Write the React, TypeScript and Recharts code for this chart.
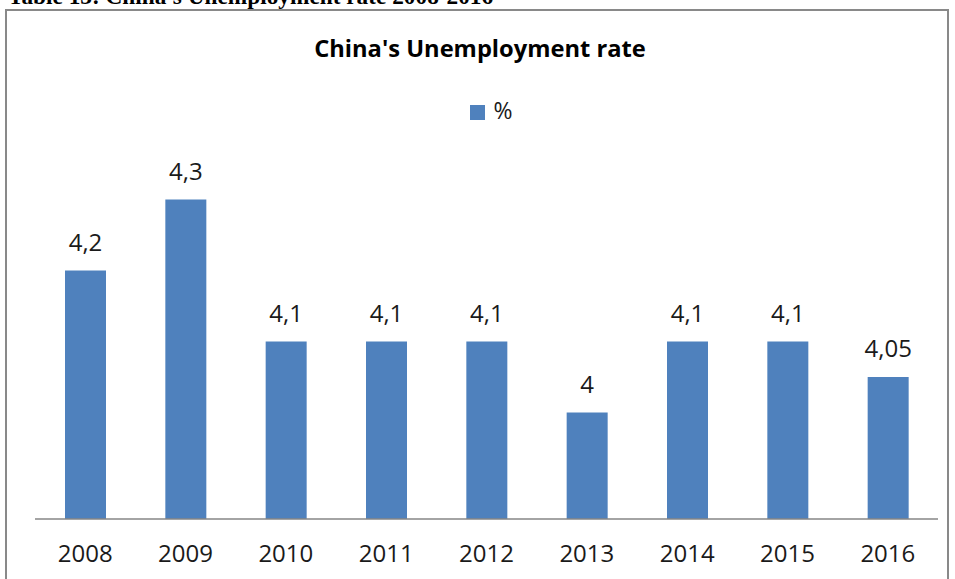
import { BarChart, Bar, XAxis, YAxis, Legend, LabelList } from "recharts"

const years = ["2008", "2009", "2010", "2011", "2012", "2013", "2014", "2015", "2016"]
const rates = [4.2, 4.3, 4.1, 4.1, 4.1, 4.0, 4.1, 4.1, 4.05]

const data = years.map((year, i) => ({ year, value: rates[i] }))

const font = "'Open Sans', 'Liberation Sans', sans-serif"
const barColor = "#4F81BD"

const fmt = (v: number) => String(v).replace(".", ",")

export default function App() {
  return (
    <div
      style={{
        position: "absolute",
        top: 0,
        left: 0,
        width: 955,
        height: 579,
        overflow: "hidden",
        background: "#fff",
      }}
    >
      <div
        style={{
          position: "absolute",
          top: -15,
          left: 8,
          fontFamily: "'Liberation Serif', serif",
          fontWeight: "bold",
          fontSize: 23.3,
          lineHeight: 1,
          whiteSpace: "nowrap",
          color: "#000",
        }}
      >
        Table 13: China's Unemployment rate 2008-2016
      </div>
      <div
        style={{
          position: "absolute",
          left: 5,
          top: 9,
          width: 944,
          height: 620,
          border: "2px solid #898989",
          boxSizing: "border-box",
        }}
      />
      <div
        style={{
          position: "absolute",
          top: 32,
          left: 0,
          width: 960,
          textAlign: "center",
          fontFamily: font,
          fontWeight: "bold",
          fontSize: 23.7,
          lineHeight: "32px",
          color: "#000",
        }}
      >
        China's Unemployment rate
      </div>
      <BarChart
        width={955}
        height={579}
        data={data}
        margin={{ top: 132, right: 17, bottom: 0, left: 35 }}
        style={{ position: "absolute", top: 0, left: 0 }}
      >
        <XAxis
          dataKey="year"
          height={60}
          tickLine={false}
          tickMargin={20}
          axisLine={{ stroke: "#868686", strokeWidth: 1.5 }}
          tick={{ fill: "#1a1a1a", fontSize: 24, fontFamily: font }}
        />
        <YAxis hide domain={[3.85, 4.35]} allowDataOverflow />
        <Legend
          verticalAlign="top"
          align="center"
          iconType="square"
          iconSize={15}
          wrapperStyle={{
            top: 94,
            left: 19,
            width: 955,
            fontFamily: font,
            fontSize: 23,
          }}
          formatter={(v) => <span style={{ color: "#1a1a1a", marginLeft: 4 }}>{v}</span>}
        />
        <Bar dataKey="value" name="%" fill={barColor} barSize={41} isAnimationActive={false}>
          <LabelList
            dataKey="value"
            position="top"
            offset={20}
            formatter={(v: any) => fmt(v)}
            style={{ fill: "#1a1a1a", fontSize: 24, fontFamily: font }}
          />
        </Bar>
      </BarChart>
    </div>
  )
}
